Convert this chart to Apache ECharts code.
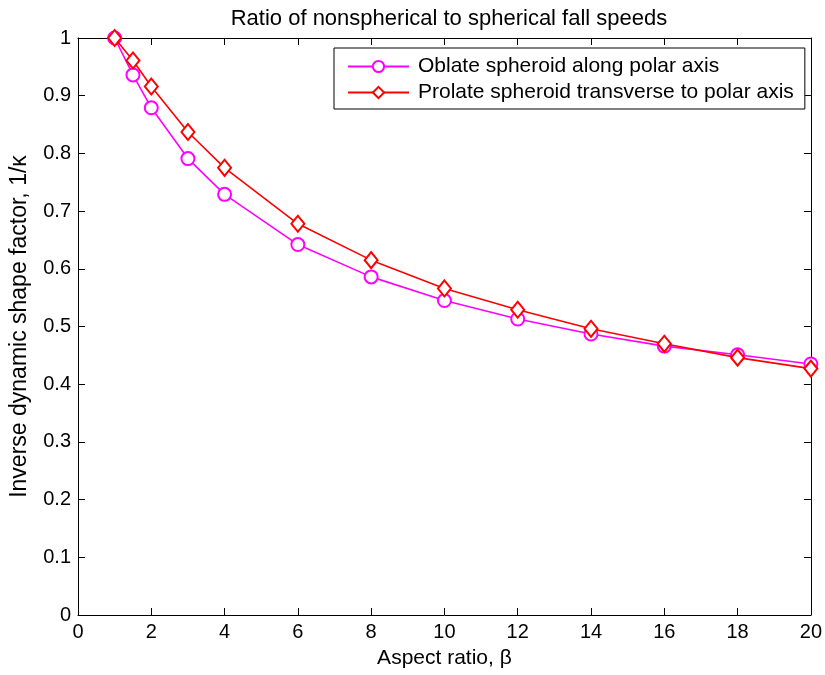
<!DOCTYPE html>
<html>
<head>
<meta charset="utf-8">
<script src="https://cdn.jsdelivr.net/npm/echarts@6/dist/echarts.min.js"></script>
<style>html,body{margin:0;padding:0;background:#fff;}#c{width:825px;height:675px;}</style>
</head>
<body>
<div id="c"></div>
<script>
const aspectRatio = [1, 1.5, 2, 3, 4, 6, 8, 10, 12, 14, 16, 18, 20];
const oblate  = [1.000, 0.936, 0.879, 0.791, 0.729, 0.642, 0.586, 0.545, 0.513, 0.487, 0.466, 0.451, 0.435];
const prolate = [1.000, 0.961, 0.916, 0.837, 0.775, 0.678, 0.615, 0.566, 0.529, 0.496, 0.470, 0.446, 0.427];
const seriesNames = ['Oblate spheroid along polar axis', 'Prolate spheroid transverse to polar axis'];
const titleText = 'Ratio of nonspherical to spherical fall speeds';
const xName = 'Aspect ratio, \u03B2';
const yName = 'Inverse dynamic shape factor, 1/\u03BA';

const FONT = "'Liberation Sans', Arial, Helvetica, sans-serif";
const pairs = (xs, ys) => xs.map((x, i) => [x, ys[i]]);

const chart = echarts.init(document.getElementById('c'), null, {renderer: 'canvas'});
const axisCommon = {
  axisLine: {show: true, onZero: false, lineStyle: {color: '#000', width: 1}},
  axisTick: {show: true, inside: true, length: 7, lineStyle: {color: '#000', width: 1}},
  splitLine: {show: false}
};
chart.setOption({
  animation: false,
  backgroundColor: '#fff',
  title: {
    text: titleText, left: 444, top: 3, textAlign: 'center',
    textStyle: {fontFamily: FONT, fontSize: 22, fontWeight: 'normal', color: '#000'}
  },
  grid: {left: 78, right: 13, top: 38, bottom: 60, containLabel: false},
  legend: {
    orient: 'vertical', left: 334, top: 48,
    padding: [8, 11, 6, 13],
    itemWidth: 61, itemHeight: 14, itemGap: 5,
    backgroundColor: '#fff', borderColor: '#000', borderWidth: 1, borderRadius: 0,
    textStyle: {fontFamily: FONT, fontSize: 21, color: '#000', padding: [0, 0, 0, 4]},
    data: seriesNames
  },
  xAxis: [
    Object.assign({}, axisCommon, {
      type: 'value', min: 0, max: 20, interval: 2, position: 'bottom',
      name: xName, nameLocation: 'middle', nameGap: 33,
      nameTextStyle: {fontFamily: FONT, fontSize: 21, color: '#000'},
      axisLabel: {fontFamily: FONT, fontSize: 20, color: '#000', margin: 7}
    }),
    Object.assign({}, axisCommon, {
      type: 'value', min: 0, max: 20, interval: 2, position: 'top',
      axisLabel: {show: false}
    })
  ],
  yAxis: [
    Object.assign({}, axisCommon, {
      type: 'value', min: 0, max: 1, interval: 0.1, position: 'left',
      name: yName, nameLocation: 'middle', nameGap: 47,
      nameTextStyle: {fontFamily: FONT, fontSize: 23, color: '#000'},
      axisLabel: {fontFamily: FONT, fontSize: 20, color: '#000', margin: 7}
    }),
    Object.assign({}, axisCommon, {
      type: 'value', min: 0, max: 1, interval: 0.1, position: 'right',
      axisLabel: {show: false}
    })
  ],
  series: [
    {
      name: seriesNames[0], type: 'line', data: pairs(aspectRatio, oblate),
      symbol: 'emptyCircle', symbolSize: 13, showAllSymbol: true,
      lineStyle: {color: '#ff00ff', width: 1.6},
      itemStyle: {color: '#ff00ff', borderColor: '#ff00ff', borderWidth: 1.6},
      z: 2
    },
    {
      name: seriesNames[1], type: 'line', data: pairs(aspectRatio, prolate),
      symbol: 'emptyDiamond', symbolSize: [13, 16], showAllSymbol: true,
      lineStyle: {color: '#ff0000', width: 1.6},
      itemStyle: {color: '#ff0000', borderColor: '#ff0000', borderWidth: 1.6},
      z: 3
    }
  ]
});
</script>
</body>
</html>
